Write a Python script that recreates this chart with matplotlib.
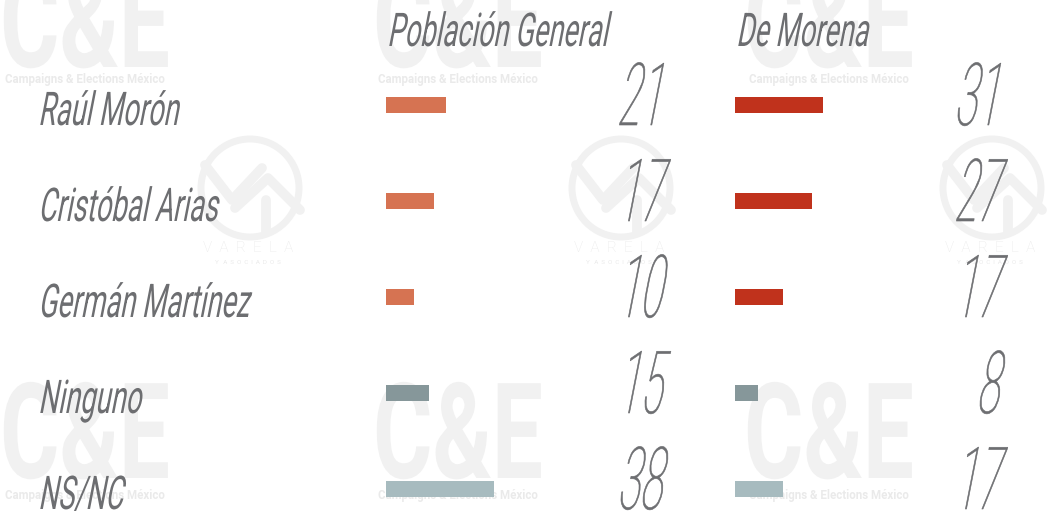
import matplotlib
matplotlib.use("Agg")
import matplotlib.pyplot as plt
import matplotlib.patheffects as pe
from matplotlib.patches import Circle
from matplotlib.transforms import Affine2D, blended_transform_factory

# data
names = ["Raúl Morón", "Cristóbal Arias", "Germán Martínez", "Ninguno", "NS/NC"]
poblacion = [21, 17, 10, 15, 38]
morena = [31, 27, 17, 8, 17]
panel_titles = ["Población General", "De Morena"]
colors_general = ["#D67352", "#D67352", "#D67352", "#86979A", "#A7BBBF"]
colors_morena = ["#C0321C", "#C0321C", "#C0321C", "#86979A", "#A7BBBF"]

TEXT = "#6D6E71"
WM = "#F1F1F1"
PX_PER_UNIT = 2.85
ROW_PX = 96.0
FIRST_ROW_PX = 105.0


class Squeeze(pe.AbstractPathEffect):
    """condense a text horizontally around its anchor, plus a slant"""

    def __init__(self, sx, slant=11, lw=0):
        super().__init__()
        self.sx = sx
        self.slant = slant
        self.lw = lw
        self.text = None

    def draw_path(self, renderer, gc, tpath, affine, rgbFace=None):
        x0, y0 = self.text.get_transform().transform(self.text.get_position())
        tr = Affine2D().translate(-x0, -y0).scale(self.sx, 1).skew_deg(self.slant, 0).translate(x0, y0)
        if self.lw:
            gc0 = renderer.new_gc()
            gc0.copy_properties(gc)
            gc0.set_linewidth(self.lw)
            gc0.set_foreground(rgbFace)
            renderer.draw_path(gc0, tpath, affine + tr, rgbFace)
            gc0.restore()
        else:
            renderer.draw_path(gc, tpath, affine + tr, rgbFace)


def label(ax, x, y, s, size, sx, slant=11, lw=0, **kw):
    eff = Squeeze(sx, slant, lw)
    t = ax.text(x, y, s, fontsize=size, va="baseline", path_effects=[eff], **kw)
    eff.text = t
    return t


plt.rcParams["font.family"] = ["Roboto", "DejaVu Sans"]
W, H = 1052, 511
fig = plt.figure(figsize=(W / 100, H / 100), dpi=100)
fig.patch.set_facecolor("white")

# background with watermarks, pixel coords
bg = fig.add_axes([0, 0, 1, 1])
bg.set_xlim(0, W)
bg.set_ylim(H, 0)
bg.axis("off")
for cx, base, cap in [(85, 67, 79), (458, 67, 79), (829, 67, 79),
                      (85, 478, 495), (458, 478, 495), (829, 478, 495)]:
    label(bg, cx, base, "C&E", 96, 0.68, slant=0, ha="center", color=WM, fontweight="bold", zorder=0)
    bg.text(cx, cap, "Campaigns & Elections México", fontsize=8.3, ha="center", va="center",
            color="#EAEAEA", fontweight="bold", zorder=0)
for dx in [0, 371, 742]:
    bg.add_patch(Circle((250 + dx, 188), 49, fill=False, lw=5, ec=WM, zorder=0))
    bg.plot([205 + dx, 232 + dx, 262 + dx], [165, 200, 168], color=WM, lw=7,
            solid_capstyle="round", solid_joinstyle="round", zorder=0)
    bg.plot([235 + dx, 268 + dx, 300 + dx], [208, 178, 210], color=WM, lw=7,
            solid_capstyle="round", solid_joinstyle="round", zorder=0)
    bg.plot([266 + dx, 266 + dx], [200, 232], color=WM, lw=7, solid_capstyle="round", zorder=0)
    bg.text(248 + dx, 248, "V  A  R  E  L  A", fontsize=11, ha="center", va="center",
            color="#EAEAEA", fontweight=100, zorder=0)
    bg.text(248 + dx, 262, "Y   A  S  O  C  I  A  D  O  S", fontsize=4.5, ha="center", va="center",
            color="#EAEAEA", zorder=0)

# panels
panels = [(386, poblacion, colors_general, 661), (735, morena, colors_morena, 998)]
axes = []
for (left, vals, cols, num_right), title in zip(panels, panel_titles):
    width_px = 300
    ax = fig.add_axes([left / W, 0, width_px / W, 1])
    ax.set_facecolor("none")
    ax.set_xlim(0, width_px / PX_PER_UNIT)
    ax.set_ylim((H - FIRST_ROW_PX) / ROW_PX, -FIRST_ROW_PX / ROW_PX)
    ax.axis("off")
    ys = list(range(len(vals)))
    ax.barh(ys, vals, height=16 / ROW_PX, color=cols, zorder=2)
    for y, v in zip(ys, vals):
        label(ax, (num_right - left) / PX_PER_UNIT, y + 20 / ROW_PX, str(v), 62.5, 0.47, lw=0.45,
              ha="right", color=TEXT, fontweight=100, zorder=3)
    label(bg, left + 1, 46, title, 33.5, 0.585, ha="left", color=TEXT, zorder=3)
    axes.append(ax)

# candidate names
tr = blended_transform_factory(fig.transFigure, axes[0].transData)
for i, name in enumerate(names):
    eff = Squeeze(0.59, 11)
    t = fig.text(38 / W, i + 20 / ROW_PX, name, transform=tr, fontsize=33.5, va="baseline",
                 ha="left", color=TEXT, path_effects=[eff], zorder=3)
    eff.text = t

fig.savefig("out.png", dpi=100, facecolor="white")
